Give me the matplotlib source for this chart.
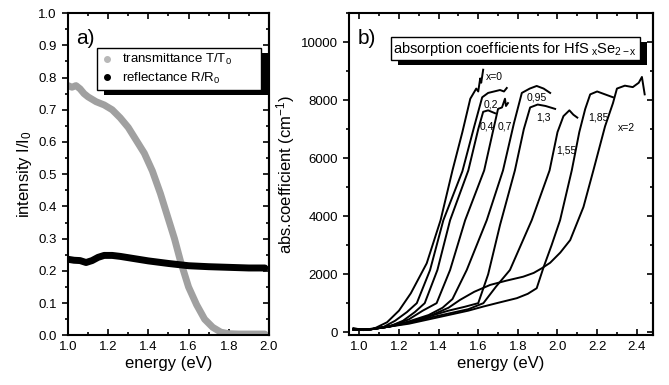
import matplotlib
matplotlib.use('Agg')
import matplotlib.pyplot as plt
from matplotlib.lines import Line2D
from matplotlib.patches import Rectangle
from matplotlib.ticker import MultipleLocator

plt.rcParams['font.family'] = ['Liberation Sans', 'DejaVu Sans']
plt.rcParams['mathtext.fontset'] = 'custom'
plt.rcParams['mathtext.rm'] = 'Liberation Sans'
plt.rcParams['mathtext.it'] = 'Liberation Sans'

# panel a) transmittance / reflectance
e_trans = [1.00, 1.02, 1.04, 1.06, 1.08, 1.10, 1.14, 1.18, 1.22, 1.26, 1.30, 1.34,
           1.38, 1.42, 1.46, 1.50, 1.53, 1.56, 1.60, 1.64, 1.68, 1.72, 1.76, 1.80,
           1.85, 1.90, 1.95, 1.98]
trans = [0.775, 0.77, 0.775, 0.765, 0.75, 0.74, 0.725, 0.715, 0.70, 0.675, 0.645, 0.605,
         0.565, 0.51, 0.44, 0.36, 0.30, 0.23, 0.15, 0.095, 0.05, 0.025, 0.01, 0.005,
         0.004, 0.004, 0.004, 0.004]

e_refl = [1.00, 1.03, 1.06, 1.09, 1.12, 1.15, 1.18, 1.22, 1.26, 1.30, 1.40, 1.50,
          1.60, 1.70, 1.80, 1.90, 1.98]
refl = [0.236, 0.233, 0.232, 0.226, 0.232, 0.242, 0.248, 0.248, 0.245, 0.241, 0.231, 0.223,
        0.216, 0.213, 0.211, 0.209, 0.209]

# panel b) absorption coefficients, one curve per x
curves = {
    'x0': ([0.97, 1.02, 1.08, 1.14, 1.20, 1.26, 1.34, 1.41, 1.47, 1.52, 1.56, 1.59, 1.60,
            1.61, 1.615, 1.625],
           [150, 80, 150, 350, 750, 1350, 2380, 3865, 5580, 6900, 8050, 8400, 8300,
            8750, 8600, 9050]),
    'x02': ([0.97, 1.05, 1.12, 1.18, 1.24, 1.29, 1.357, 1.424, 1.52, 1.58, 1.62, 1.65,
             1.68, 1.71, 1.73, 1.744],
            [100, 100, 180, 400, 700, 1008, 2150, 3865, 5550, 7100, 8100, 8250,
             8300, 8350, 8300, 8420]),
    'x04': ([0.97, 1.05, 1.15, 1.22, 1.28, 1.33, 1.394, 1.458, 1.55, 1.60, 1.625, 1.65,
             1.685],
            [100, 100, 200, 400, 700, 1008, 2150, 3865, 5580, 7000, 7600, 7650, 7550]),
    'x07': ([0.97, 1.05, 1.15, 1.25, 1.32, 1.39, 1.458, 1.534, 1.63, 1.68, 1.70, 1.72,
             1.735, 1.74, 1.75],
            [100, 100, 200, 450, 750, 1008, 2150, 3865, 5580, 7100, 7700, 7750,
             8050, 7800, 7900]),
    'x095': ([0.97, 1.05, 1.15, 1.25, 1.35, 1.42, 1.47, 1.542, 1.643, 1.725, 1.78, 1.82,
              1.86, 1.895, 1.93, 1.963],
             [100, 100, 200, 380, 600, 850, 1150, 2150, 3865, 5580, 7200, 8250,
              8400, 8490, 8400, 8250]),
    'x13': ([0.97, 1.05, 1.15, 1.25, 1.35, 1.45, 1.53, 1.60, 1.65, 1.71, 1.785, 1.83,
             1.862, 1.90, 1.94, 1.988],
            [100, 100, 200, 350, 550, 750, 880, 1008, 2000, 3700, 5580, 7000,
             7750, 7850, 7800, 7700]),
    'x155': ([0.97, 1.05, 1.15, 1.25, 1.35, 1.45, 1.55, 1.626, 1.69, 1.76, 1.87, 1.96,
              2.00, 2.03, 2.06, 2.08, 2.10],
             [100, 100, 200, 330, 500, 650, 800, 1008, 1580, 2150, 3865, 5580,
              6900, 7450, 7650, 7500, 7400]),
    'x185': ([0.97, 1.05, 1.15, 1.25, 1.35, 1.45, 1.55, 1.626, 1.70, 1.795, 1.85, 1.895,
              1.93, 1.97, 2.013, 2.072, 2.11, 2.14, 2.165, 2.20, 2.24, 2.28],
             [100, 100, 200, 300, 450, 600, 750, 892, 1020, 1180, 1330, 1522,
              2250, 3000, 3865, 5580, 6900, 7700, 8200, 8300, 8200, 8100]),
    'x2': ([0.97, 1.05, 1.15, 1.25, 1.35, 1.45, 1.508, 1.58, 1.66, 1.74, 1.827, 1.88,
            1.92, 1.963, 2.014, 2.064, 2.131, 2.181, 2.24, 2.28, 2.30, 2.34, 2.38, 2.41,
            2.426, 2.44],
           [100, 100, 220, 350, 550, 850, 1120, 1400, 1636, 1780, 1920, 2050,
            2207, 2400, 2750, 3180, 4320, 5580, 7100, 7900, 8400, 8500, 8450, 8600,
            8800, 8200]),
}

labels = ['x=0', '0,2', '0,4', '0,7', '0,95', '1,3', '1,55', '1,85', 'x=2']
label_e = [1.64, 1.626, 1.609, 1.699, 1.842, 1.892, 1.996, 2.155, 2.306]
label_a = [8800, 7866, 7100, 7100, 8093, 7407, 6265, 7407, 7030]

fig = plt.figure(figsize=(6.69, 3.85), dpi=100)
ax1 = fig.add_axes([0.1016, 0.129, 0.3004, 0.837])
ax2 = fig.add_axes([0.5217, 0.129, 0.4544, 0.837])


def style(ax):
    for s in ax.spines.values():
        s.set_linewidth(1.5)
    ax.tick_params(axis='x', which='both', direction='in', top=True, labelsize=9.5, width=1.2)
    ax.tick_params(axis='x', which='major', length=4.5, pad=4)
    ax.tick_params(axis='x', which='minor', length=2.5)
    ax.tick_params(axis='y', which='both', direction='out', labelsize=9.5, width=1.2)
    ax.tick_params(axis='y', which='major', length=4.5)
    ax.tick_params(axis='y', which='minor', length=2.5)
    sec = ax.secondary_yaxis('right')
    sec.set_yticks(ax.get_yticks())
    sec.yaxis.set_minor_locator(ax.yaxis.get_minor_locator())
    sec.tick_params(which='both', direction='in', labelright=False, width=1.2)
    sec.tick_params(which='major', length=4.5)
    sec.tick_params(which='minor', length=2.5)
    sec.spines['right'].set_linewidth(1.5)


# ---- panel a
ax1.plot(e_trans, trans, color='#a0a0a0', lw=5, solid_capstyle='round', zorder=2)
ax1.plot(e_refl, refl, color='black', lw=5, solid_capstyle='round', zorder=3)
ax1.set_xlim(1.0, 2.0)
ax1.set_ylim(0.0, 1.0)
ax1.xaxis.set_minor_locator(MultipleLocator(0.1))
ax1.yaxis.set_minor_locator(MultipleLocator(0.05))
ax1.set_xticks([1.0, 1.2, 1.4, 1.6, 1.8, 2.0])
ax1.set_yticks([i / 10 for i in range(11)])
style(ax1)
ax1.set_xlabel('energy (eV)', fontsize=12, labelpad=2)
ax1.set_ylabel('intensity I/I$_0$', fontsize=12, labelpad=3)
ax1.text(0.04, 0.95, 'a)', transform=ax1.transAxes, fontsize=15, va='top')

handles = [Line2D([], [], ls='none', marker='o', ms=4, mfc='#b8b8b8', mec='#b8b8b8'),
           Line2D([], [], ls='none', marker='o', ms=4, mfc='black', mec='black')]
leg = ax1.legend(handles, ['transmittance T/T$_0$', 'reflectance R/R$_0$'],
                 loc='upper left', bbox_to_anchor=(0.144, 0.767, 0.816, 0.124),
                 mode='expand', fontsize=9.5, frameon=True, fancybox=False,
                 framealpha=1.0, handlelength=1.0, handletextpad=0.6, borderpad=0.3,
                 labelspacing=0.25, borderaxespad=0)
leg.get_frame().set_edgecolor('black')
leg.get_frame().set_linewidth(1.0)

# ---- panel b
for key in curves:
    e, a = curves[key]
    ax2.plot(e, a, color='black', lw=1.4)
for lab, xe, ya in zip(labels, label_e, label_a):
    ax2.text(xe, ya, lab, fontsize=7.5, ha='left', va='center')
ax2.set_xlim(0.948, 2.482)
ax2.set_ylim(-100, 11000)
ax2.set_xticks([1.0, 1.2, 1.4, 1.6, 1.8, 2.0, 2.2, 2.4])
ax2.xaxis.set_minor_locator(MultipleLocator(0.1))
ax2.set_yticks([0, 2000, 4000, 6000, 8000, 10000])
ax2.yaxis.set_minor_locator(MultipleLocator(1000))
style(ax2)
ax2.set_xlabel('energy (eV)', fontsize=12, labelpad=2)
ax2.set_ylabel('abs.coefficient (cm$^{-1}$)', fontsize=12, labelpad=3)
ax2.text(0.03, 0.95, 'b)', transform=ax2.transAxes, fontsize=15, va='top')
tb = ax2.text(0.547, 0.89, 'absorption coefficients for HfS$_{\\ x}$Se$_{2-x}$',
              transform=ax2.transAxes, fontsize=10.5, ha='center', va='center',
              bbox=dict(boxstyle='square,pad=0.2', fc='white', ec='black', lw=1.0),
              zorder=6)

# black drop shadows behind legend and title box
fig.canvas.draw()
for ax, bb, z in [(ax1, leg.get_frame().get_window_extent(), 4.9),
                  (ax2, tb.get_bbox_patch().get_window_extent(), 5.9)]:
    inv = ax.transAxes.inverted()
    (x0, y0), (x1, y1) = inv.transform([(bb.x0 + 7, bb.y0 - 5), (bb.x1 + 7, bb.y1 - 5)])
    ax.add_patch(Rectangle((x0, y0), x1 - x0, y1 - y0, transform=ax.transAxes,
                           fc='black', ec='none', zorder=z, clip_on=False))

fig.savefig('out.png', dpi=100)
